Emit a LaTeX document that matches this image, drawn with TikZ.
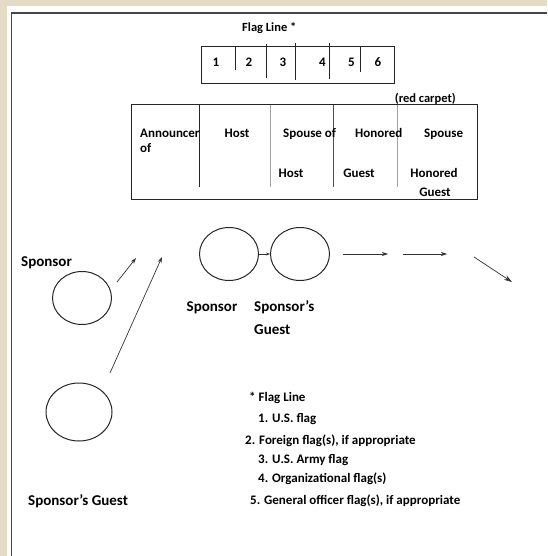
\documentclass[tikz,border=0pt]{standalone}
\usepackage{fontspec}
\setmainfont{Carlito}
\usetikzlibrary{shapes.geometric,arrows.meta}
\definecolor{parch}{RGB}{228,220,198}
\definecolor{frameline}{RGB}{70,70,70}
\definecolor{divgray}{RGB}{160,160,160}
\tikzset{
  lbl/.style={inner sep=0pt,font=\bfseries\fontsize{13}{15}\selectfont},
  midlbl/.style={inner sep=0pt,font=\bfseries\fontsize{12.5}{15}\selectfont},
  leglbl/.style={inner sep=0pt,font=\bfseries\fontsize{13}{15}\selectfont},
  biglbl/.style={inner sep=0pt,font=\bfseries\fontsize{15}{17}\selectfont},
  person/.style={draw=black!85,line width=1pt,ellipse,inner sep=0pt},
  flow/.style={draw=black!80,line width=0.7pt,-{Stealth[length=6pt,width=4pt]}},
  box/.style={draw=black!85,line width=1pt},
}
\begin{document}
\begin{tikzpicture}[x=1pt,y=-1pt]
\useasboundingbox (0,0) rectangle (547,556);
\fill[parch] (0,0) rectangle (547,556);
\fill[white] (7,6) rectangle (547,556);
\draw[frameline,line width=1.6pt] (11.5,556) -- (11.5,13) -- (547,13);

% Flag line
\node[midlbl,anchor=base west] (flagtitle) at (242,32) {Flag Line *};
\draw[box] (201,47) rectangle (394,84);
\draw[box] (235,47) -- (235,70);
\draw[box] (266,44) -- (266,78);
\draw[box] (295,43) -- (295,80);
\draw[box] (329,43) -- (329,79);
\draw[box] (360,47) -- (360,72);
\node[lbl,anchor=base] (f1) at (216,67) {1};
\node[lbl,anchor=base] (f2) at (249,67) {2};
\node[lbl,anchor=base] (f3) at (283,67) {3};
\node[lbl,anchor=base east] (f4) at (326,67) {4};
\node[lbl,anchor=base east] (f5) at (355,67) {5};
\node[lbl,anchor=base] (f6) at (378,67) {6};

% Receiving line
\node[midlbl,anchor=base east] (redcarpet) at (456,103) {(red carpet)};
\draw[box] (131,105) rectangle (477,199);
\draw[box] (199,105) -- (199,187);
\draw[divgray,line width=1pt] (270,105) -- (270,187);
\draw[black!70,line width=1pt] (333,105) -- (333,187);
\draw[divgray,line width=1pt] (397,105) -- (397,187);
\node[lbl,anchor=base west] (ann) at (140,138) {Announcer};
\node[lbl,anchor=base west] (annof) at (140,153) {of};
\node[lbl,anchor=base] (host) at (237,138) {Host};
\node[lbl,anchor=base west] (spof) at (283,138) {Spouse of};
\node[lbl,anchor=base west] (hon) at (355,138) {Honored};
\node[lbl,anchor=base west] (sp2) at (424,138) {Spouse};
\node[lbl,anchor=base] (host2) at (291,177) {Host};
\node[lbl,anchor=base] (guest2) at (359,177) {Guest};
\node[lbl,anchor=base] (hon2) at (434,177) {Honored};
\node[lbl,anchor=base] (guest3) at (435,196) {Guest};

% People
\node[biglbl,anchor=base west] (lsponsor) at (21,266) {Sponsor};
\node[person,minimum width=59pt,minimum height=53pt] (c1) at (82,298) {};
\node[person,minimum width=66pt,minimum height=58pt] (c2) at (79,412) {};
\node[biglbl,anchor=base west] (lguest) at (28,505) {Sponsor’s Guest};
\node[person,minimum width=59pt,minimum height=53pt] (c3) at (229,254) {};
\node[person,minimum width=59pt,minimum height=53pt] (c4) at (300,254) {};
\node[biglbl,anchor=base] (msponsor) at (212,311) {Sponsor};
\node[biglbl,anchor=base west] (mguest) at (254,311) {Sponsor’s};
\node[biglbl,anchor=base west] (mguest2) at (254,334) {Guest};

\coordinate (a1s) at (117,282); \coordinate (a1e) at (136,258);
\coordinate (a2s) at (110,373); \coordinate (a2e) at (162,257);
\coordinate (a3s) at (343,254); \coordinate (a3e) at (388,254);
\coordinate (a4s) at (403,254); \coordinate (a4e) at (447,254);
\coordinate (a5s) at (474,257); \coordinate (a5e) at (512,282);
\draw[flow] (a1s) -- (a1e);
\draw[flow] (a2s) -- (a2e);
\draw[draw=black!80,line width=0.7pt,-{Stealth[length=4pt,width=3pt]}] (c3.east) -- (c4.west);
\draw[flow] (a3s) -- (a3e);
\draw[flow] (a4s) -- (a4e);
\draw[flow,-{Stealth[length=8pt,width=5pt]}] (a5s) -- (a5e);

% Legend
\node[leglbl,anchor=base west] (l0) at (249,401.5) {* Flag Line};
\node[leglbl,anchor=base west] (l1) at (258,422.5) {1. U.S. flag};
\node[leglbl,anchor=base west] (l2) at (245,444.5) {2. Foreign flag(s), if appropriate};
\node[leglbl,anchor=base west] (l3) at (258,463.5) {3. U.S. Army flag};
\node[leglbl,anchor=base west] (l4) at (258,482.5) {4. Organizational flag(s)};
\node[leglbl,anchor=base west] (l5) at (250,504.5) {5. General officer flag(s), if appropriate};
\end{tikzpicture}
\end{document}
